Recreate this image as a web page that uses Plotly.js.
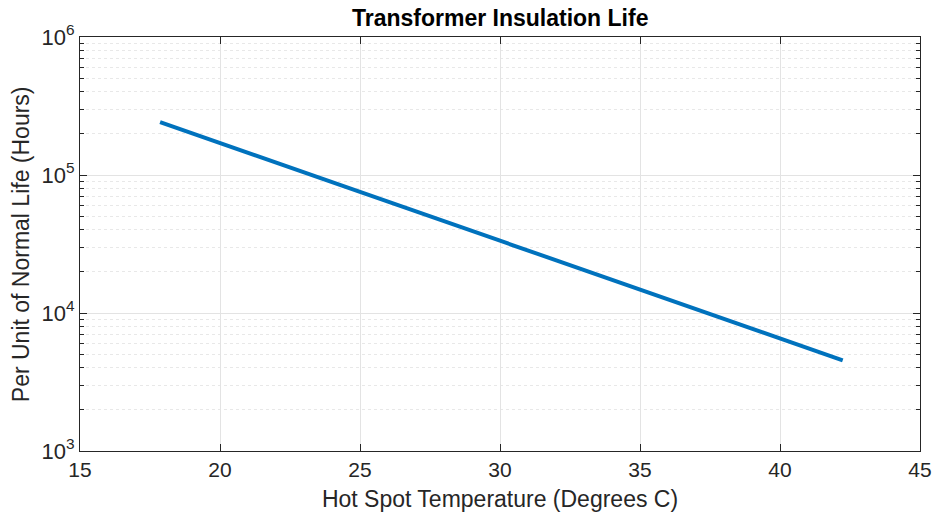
<!DOCTYPE html>
<html>
<head>
<meta charset="utf-8">
<script src="https://cdn.plot.ly/plotly-3.0.1.min.js"></script>
<style>html,body{margin:0;padding:0;background:#fff;}#chart{width:936px;height:518px;}</style>
</head>
<body>
<div id="chart"></div>
<script>
const temperature = [17.86, 20, 25, 30, 35, 40, 42.24];
const lifeHours = [242000, 170000, 75500, 33400, 14800, 6550, 4540];
const yTickVals = [1e3, 1e4, 1e5, 1e6];
const yTickText = ['10<sup>3</sup>', '10<sup>4</sup>', '10<sup>5</sup>', '10<sup>6</sup>'];
const xTickVals = [15, 20, 25, 30, 35, 40, 45];

const font = 'Liberation Sans, Arial, sans-serif';
const axisColor = '#262626';

Plotly.newPlot('chart', [{
  x: temperature,
  y: lifeHours,
  type: 'scatter',
  mode: 'lines',
  line: {color: '#0072BD', width: 4},
  hoverinfo: 'skip'
}], {
  width: 936, height: 518,
  margin: {l: 80, r: 16, t: 37, b: 67},
  paper_bgcolor: '#fff', plot_bgcolor: '#fff',
  showlegend: false,
  title: {text: '<b>Transformer Insulation Life</b>', font: {family: font, size: 23, color: '#000'}, x: 0.5344, xanchor: 'center', y: 0.965, yanchor: 'middle'},
  xaxis: {
    range: [15, 45], tickmode: 'array', tickvals: xTickVals,
    showline: true, linecolor: axisColor, linewidth: 1, mirror: 'ticks',
    ticks: 'inside', ticklen: 7, tickcolor: axisColor,
    showgrid: true, gridcolor: '#e3e3e3', gridwidth: 1, zeroline: false,
    tickfont: {family: font, size: 21, color: axisColor},
    title: {text: 'Hot Spot Temperature (Degrees C)', font: {family: font, size: 23, color: axisColor}, standoff: 10}
  },
  yaxis: {
    type: 'log', range: [3, 6], tickmode: 'array', tickvals: yTickVals, ticktext: yTickText,
    showline: true, linecolor: axisColor, linewidth: 1, mirror: 'ticks',
    ticks: 'inside', ticklen: 7, tickcolor: axisColor,
    showgrid: true, gridcolor: '#e3e3e3', gridwidth: 1, zeroline: false,
    minor: {dtick: 'D1', ticks: 'inside', ticklen: 4, tickcolor: axisColor, showgrid: true, gridcolor: '#e8e8e8', griddash: 'dot', gridwidth: 1},
    tickfont: {family: font, size: 22, color: axisColor},
    title: {text: ''}
  },
  annotations: [{
    text: 'Per Unit of Normal Life (Hours)',
    xref: 'paper', yref: 'paper', x: -0.07, y: 0.5,
    xanchor: 'center', yanchor: 'middle', textangle: -90, showarrow: false,
    font: {family: font, size: 23, color: axisColor}
  }]
}, {staticPlot: true});
</script>
</body>
</html>
